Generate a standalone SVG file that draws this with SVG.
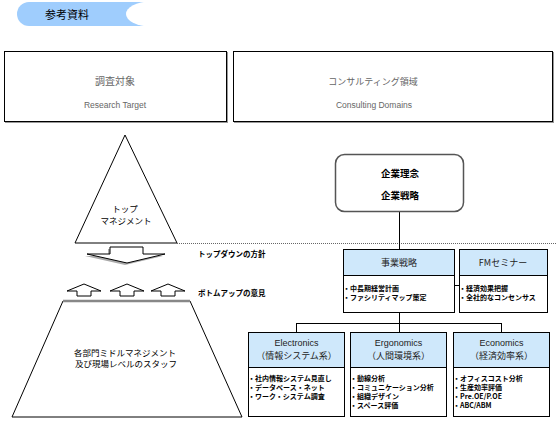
<svg xmlns="http://www.w3.org/2000/svg" width="557" height="422" viewBox="0 0 557 422">
<style>
.jp{font-family:"Noto Sans CJK JP","Liberation Sans",sans-serif;}
.en{font-family:"Liberation Sans","Noto Sans CJK JP",sans-serif;}
.box{fill:#fff;stroke:#000;stroke-width:1;}
.hdr{fill:#cfe8fb;stroke:#000;stroke-width:1;}
.ln{stroke:#000;stroke-width:1;fill:none;}
.bul{font-size:7px;font-weight:bold;fill:#000;}
.ttl{font-size:9px;fill:#222;text-anchor:middle;}
.grey{fill:#666;text-anchor:middle;}
.arr{fill:#fff;stroke:#000;stroke-width:1;}
</style>
<rect width="557" height="422" fill="#fff"/>
<g id="banner">
<path d="M29,2 H150 V26 H29 A12,12 0 0 1 29,2 Z" fill="#9fcdfd"/>
<ellipse cx="150" cy="14" rx="24" ry="12.5" fill="#fff"/>
<text class="jp" x="45" y="19" font-size="11" fill="#000">参考資料</text>
</g>
<g id="research-target">
<rect x="5" y="52" width="223" height="71" fill="#999"/>
<rect class="box" x="4.5" y="51.5" width="222" height="70"/>
<text class="jp grey" x="115" y="85" font-size="10">調査対象</text>
<text class="en grey" x="115" y="108" font-size="8.5">Research Target</text>
</g>
<g id="consulting-domains">
<rect x="234" y="52" width="320" height="71" fill="#999"/>
<rect class="box" x="233.5" y="51.5" width="319" height="70"/>
<text class="jp grey" x="373" y="85" font-size="9">コンサルティング領域</text>
<text class="en grey" x="374" y="108" font-size="8.5">Consulting Domains</text>
</g>
<g id="top-management">
<polygon class="arr" points="125,135 75,243 177,243"/>
<text class="jp" x="125" y="212" font-size="8.5" text-anchor="middle">トップ</text>
<text class="jp" x="126" y="224" font-size="8.5" text-anchor="middle">マネジメント</text>
</g>
<g id="staff">
<polygon class="arr" points="63,301 190,301 242,417 12,417"/>
<line x1="63" y1="301" x2="190" y2="301" stroke="#888" stroke-width="2.5"/>
<text class="jp" x="125" y="356" font-size="8.5" text-anchor="middle">各部門ミドルマネジメント</text>
<text class="jp" x="126" y="367" font-size="8.5" text-anchor="middle">及び現場レベルのスタッフ</text>
</g>
<g id="topdown">
<polygon points="108,249 141,249 141,256 163,256 125,265 85,256 108,256" fill="#aaa"/>
<polygon class="arr" points="110,247 143,247 143,254 165,254 127,263 87,254 110,254"/>
<text class="jp" x="198" y="257" font-size="7.5" font-weight="bold">トップダウンの方針</text>
</g>
<g id="bottomup">
<polygon class="arr" points="84,284 101,291 91,291 91,296 77,296 77,291 67,291"/>
<polygon class="arr" points="127,284 144,291 134,291 134,296 120,296 120,291 110,291"/>
<polygon class="arr" points="168,284 185,291 175,291 175,296 161,296 161,291 151,291"/>
<text class="jp" x="198" y="296" font-size="7.5" font-weight="bold">ボトムアップの意見</text>
</g>
<g id="connectors">
<line x1="177" y1="243.5" x2="557" y2="243.5" stroke="#666" stroke-width="1" stroke-dasharray="1,1"/>
<line class="ln" x1="399.5" y1="212" x2="399.5" y2="249"/>
<line class="ln" x1="455" y1="285.5" x2="459" y2="285.5"/>
<line class="ln" x1="399.5" y1="313" x2="399.5" y2="323.5"/>
<line class="ln" x1="296.5" y1="323.5" x2="501.5" y2="323.5"/>
<line class="ln" x1="296.5" y1="323" x2="296.5" y2="332"/>
<line class="ln" x1="399.5" y1="323" x2="399.5" y2="332"/>
<line class="ln" x1="501.5" y1="323" x2="501.5" y2="332"/>
</g>
<g id="corporate">
<rect x="335.5" y="154.5" width="128" height="57" rx="9" fill="#fff" stroke="#555" stroke-width="1.5"/>
<text class="jp" x="400" y="177" font-size="9.5" font-weight="bold" text-anchor="middle">企業理念</text>
<text class="jp" x="400" y="199" font-size="9.5" font-weight="bold" text-anchor="middle">企業戦略</text>
</g>
<g id="business-strategy">
<rect class="box" x="343.5" y="249.5" width="111" height="63"/>
<rect class="hdr" x="343.5" y="249.5" width="111" height="26"/>
<text class="jp ttl" x="399" y="266" font-size="10">事業戦略</text>
<text class="jp bul" x="343" y="291">・中長期経営計画</text>
<text class="jp bul" x="343" y="300">・ファシリティマップ策定</text>
</g>
<g id="fm-seminar">
<rect class="box" x="459.5" y="249.5" width="88" height="63"/>
<rect class="hdr" x="459.5" y="249.5" width="88" height="26"/>
<text class="jp ttl" x="503" y="266" font-size="10">FMセミナー</text>
<text class="jp bul" x="459" y="291">・経済効果把握</text>
<text class="jp bul" x="459" y="300">・全社的なコンセンサス</text>
</g>
<g id="electronics">
<rect class="box" x="248.5" y="332.5" width="96" height="84"/>
<rect class="hdr" x="248.5" y="332.5" width="96" height="35"/>
<text class="en ttl" x="296.5" y="346" font-size="9.5">Electronics</text>
<text class="jp ttl" x="296.5" y="359">（情報システム系）</text>
<text class="jp bul" x="248" y="381">・社内情報システム見直し</text>
<text class="jp bul" x="248" y="390">・データベース・ネット</text>
<text class="jp bul" x="248" y="399">・ワーク・システム調査</text>
</g>
<g id="ergonomics">
<rect class="box" x="350.5" y="332.5" width="96" height="84"/>
<rect class="hdr" x="350.5" y="332.5" width="96" height="35"/>
<text class="en ttl" x="398.5" y="346" font-size="9.5">Ergonomics</text>
<text class="jp ttl" x="398.5" y="359">（人間環境系）</text>
<text class="jp bul" x="350" y="381">・動線分析</text>
<text class="jp bul" x="350" y="390">・コミュニケーション分析</text>
<text class="jp bul" x="350" y="399">・組織デザイン</text>
<text class="jp bul" x="350" y="408">・スペース評価</text>
</g>
<g id="economics">
<rect class="box" x="453.5" y="332.5" width="96" height="84"/>
<rect class="hdr" x="453.5" y="332.5" width="96" height="35"/>
<text class="en ttl" x="501.5" y="346" font-size="9.5">Economics</text>
<text class="jp ttl" x="501.5" y="359">（経済効率系）</text>
<text class="jp bul" x="453" y="381">・オフィスコスト分析</text>
<text class="jp bul" x="453" y="390">・生産効率評価</text>
<text class="jp bul" x="453" y="399">・Pre.OE/P.OE</text>
<text class="jp bul" x="453" y="408">・ABC/ABM</text>
</g>
</svg>
